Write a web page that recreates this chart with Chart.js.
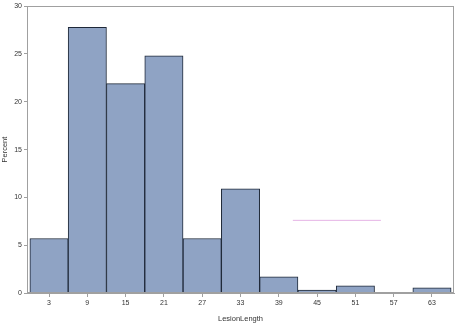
<!DOCTYPE html>
<html><head><meta charset="utf-8">
<script src="https://cdn.jsdelivr.net/npm/chart.js@4"></script>
<style>html,body{margin:0;padding:0;background:#fff}#wrap{width:456px;height:323px}</style>
</head><body><div id="wrap"><canvas id="c"></canvas></div>
<script>
const binMidpoints = [3, 9, 15, 21, 27, 33, 39, 45, 51, 57, 63];
const percentValues = [5.7, 27.8, 21.9, 24.8, 5.7, 10.9, 1.7, 0.3, 0.75, 0, 0.55];
const xTickValues = [3, 9, 15, 21, 27, 33, 39, 45, 51, 57, 63];
const yTickValues = [0, 5, 10, 15, 20, 25, 30];
const pinkLineX = [41.2, 55];
const pinkLineY = [7.6, 7.6];

const framePlugin = {
  id: 'frame',
  afterDatasetsDraw(chart) {
    const a = chart.chartArea, ctx = chart.ctx;
    ctx.save();
    ctx.strokeStyle = '#a0a0a0';
    ctx.lineWidth = 1;
    ctx.strokeRect(Math.round(a.left) + 0.5, Math.round(a.top) + 0.5, Math.round(a.right - a.left) - 1, Math.round(a.bottom - a.top) - 1);
    ctx.restore();
  }
};

const isZero = (ctx) => percentValues[ctx.dataIndex] === 0;

new Chart(document.getElementById('c'), {
  type: 'bar',
  data: {
    datasets: [{
      type: 'bar',
      data: binMidpoints.map((x, i) => ({x, y: percentValues[i]})),
      backgroundColor: (ctx) => (isZero(ctx) ? 'rgba(0,0,0,0)' : '#8fa3c4'),
      borderColor: (ctx) => (isZero(ctx) ? 'rgba(0,0,0,0)' : '#1e2838'),
      borderWidth: (ctx) => (isZero(ctx) ? 0 : 1),
      barPercentage: 1,
      categoryPercentage: 1,
      order: 2
    }, {
      type: 'line',
      data: pinkLineX.map((x, i) => ({x, y: pinkLineY[i]})),
      borderColor: '#e6b4e6',
      borderWidth: 1,
      pointRadius: 0,
      fill: false,
      order: 1
    }]
  },
  options: {
    responsive: true,
    maintainAspectRatio: false,
    animation: false,
    layout: {padding: {top: 4, right: 2, left: 0, bottom: 0}},
    plugins: {legend: {display: false}, tooltip: {enabled: false}},
    scales: {
      x: {
        type: 'linear',
        offset: false,
        min: -0.45,
        max: 66.45,
        afterBuildTicks: (axis) => { axis.ticks = xTickValues.map(v => ({value: v})); },
        afterFit: (axis) => { axis.height = 30; },
        grid: {display: true, offset: false, drawOnChartArea: false, drawTicks: true, tickLength: 4, color: '#a0a0a0'},
        border: {display: true, color: '#a0a0a0'},
        ticks: {color: '#333', font: {family: 'Liberation Sans', size: 7}, padding: 2, maxRotation: 0, autoSkip: false},
        title: {display: true, text: 'LesionLength', color: '#333', font: {family: 'Liberation Sans', size: 7.5}, padding: {top: 1, bottom: 0}}
      },
      y: {
        min: 0,
        max: 30,
        afterBuildTicks: (axis) => { axis.ticks = yTickValues.map(v => ({value: v})); },
        afterFit: (axis) => { axis.width = 27; },
        grid: {display: true, drawOnChartArea: false, drawTicks: true, tickLength: 3, color: '#a0a0a0'},
        border: {display: true, color: '#a0a0a0'},
        ticks: {color: '#333', font: {family: 'Liberation Sans', size: 7}, padding: 2},
        title: {display: true, text: 'Percent', color: '#333', font: {family: 'Liberation Sans', size: 7.5}, padding: {top: 0, bottom: 1}}
      }
    }
  },
  plugins: [framePlugin]
});
</script></body></html>
